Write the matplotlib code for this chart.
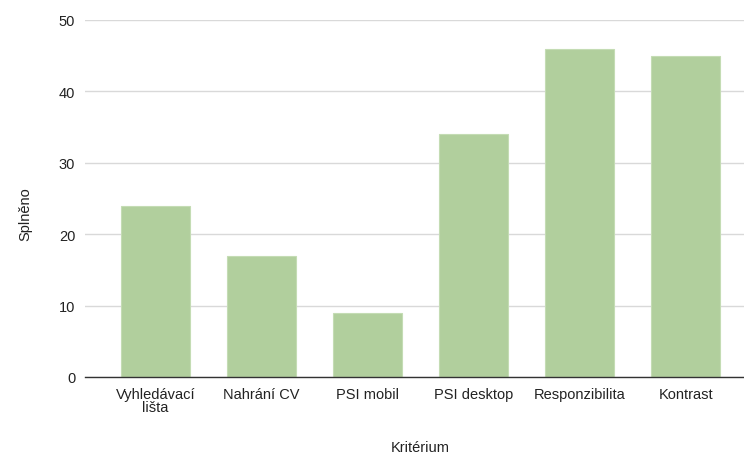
import matplotlib
matplotlib.use("Agg")
import matplotlib.pyplot as plt

categories = ["Vyhledávací\nlišta", "Nahrání CV", "PSI mobil", "PSI desktop", "Responzibilita", "Kontrast"]
values = [24, 17, 9, 34, 46, 45]
yticks = [0, 10, 20, 30, 40, 50]

plt.rcParams['font.family'] = ['Liberation Sans', 'DejaVu Sans']

fig = plt.figure(figsize=(7.44, 4.56), dpi=100)
ax = fig.add_axes([85 / 744, 1 - 378 / 456, 1 - 85 / 744, (378 - 21) / 456])

x = list(range(len(categories)))
ax.bar(x, values, width=0.65, color="#b1cf9d", edgecolor="#c4dcb4", linewidth=0.8, zorder=3)

ax.set_xlim(-0.665, 5.55)
ax.set_ylim(0, 50)
ax.set_yticks(yticks)
ax.set_xticks(x)
ax.set_xticklabels(categories, fontsize=10.5, color="#222222", linespacing=0.95)
ax.tick_params(axis="y", labelsize=10.5, labelcolor="#222222", length=0, pad=7)
ax.tick_params(axis="x", length=0, pad=7)

ax.grid(axis="y", color="#d9d9d9", linewidth=1, zorder=0)
for s in ["top", "right", "left"]:
    ax.spines[s].set_visible(False)
ax.spines["bottom"].set_color("#333333")
ax.spines["bottom"].set_linewidth(1)
ax.spines["bottom"].set_zorder(4)

fig.text(25 / 744, 1 - 214 / 456, "Splněno", rotation=90, ha="center", va="center",
         fontsize=10.5, color="#222222")
fig.text(420 / 744, 1 - 448 / 456, "Kritérium", ha="center", va="center",
         fontsize=10.5, color="#222222")

fig.savefig("out.png", dpi=100, facecolor="white")
